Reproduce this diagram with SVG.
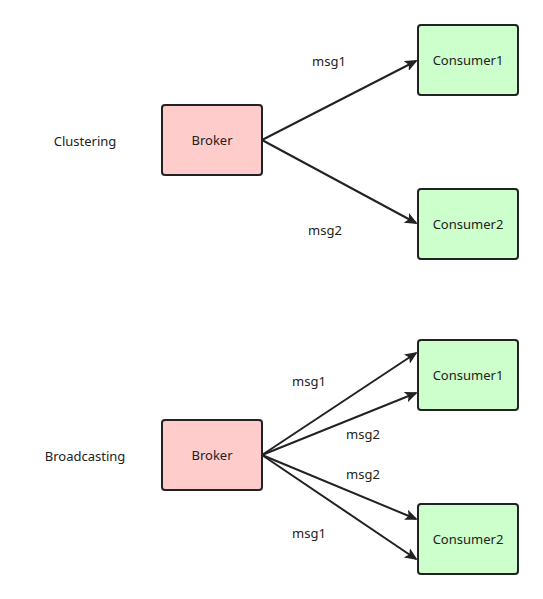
<svg xmlns="http://www.w3.org/2000/svg" width="543" height="599" viewBox="0 0 543 599">
<style>
text{font-family:"Noto Sans","Open Sans",sans-serif;font-size:13px;fill:#222;text-anchor:middle;dominant-baseline:central}
.b{fill:#ffcccc;stroke:#222;stroke-width:2}
.c{fill:#ccffcc;stroke:#222;stroke-width:2}
.e{stroke:#222;stroke-width:2;fill:none;marker-end:url(#a)}
</style>
<defs>
<marker id="a" markerWidth="13" markerHeight="11" refX="11" refY="5.5" orient="auto" markerUnits="userSpaceOnUse" viewBox="0 0 13 11">
<path d="M0,0 L13,5.5 L0,11 L3,5.5 Z" fill="#222"/>
</marker>
</defs>
<rect width="543" height="599" fill="#fff"/>
<g id="connectors">
<path class="e" d="M262,140 L416,61"/>
<path class="e" d="M262,140 L416,223"/>
<path class="e" d="M262,455 L416,353"/>
<path class="e" d="M262,455 L416,393"/>
<path class="e" d="M262,455 L416,519"/>
<path class="e" d="M262,455 L416,559"/>
</g>
<g id="labels">
<text x="329" y="61">msg1</text>
<text x="325" y="230">msg2</text>
<text x="309" y="381">msg1</text>
<text x="363" y="434">msg2</text>
<text x="363" y="474">msg2</text>
<text x="309" y="533">msg1</text>
<text x="85" y="141">Clustering</text>
<text x="85" y="456">Broadcasting</text>
</g>
<g id="broker1"><rect class="b" x="162" y="105" width="100" height="70" rx="3"/><text x="212" y="140">Broker</text></g>
<g id="consumer1a"><rect class="c" x="418" y="25" width="100" height="70" rx="3"/><text x="468" y="60">Consumer1</text></g>
<g id="consumer2a"><rect class="c" x="418" y="189" width="100" height="70" rx="3"/><text x="468" y="224">Consumer2</text></g>
<g id="broker2"><rect class="b" x="162" y="420" width="100" height="70" rx="3"/><text x="212" y="455">Broker</text></g>
<g id="consumer1b"><rect class="c" x="418" y="340" width="100" height="70" rx="3"/><text x="468" y="375">Consumer1</text></g>
<g id="consumer2b"><rect class="c" x="418" y="504" width="100" height="70" rx="3"/><text x="468" y="539">Consumer2</text></g>
</svg>
